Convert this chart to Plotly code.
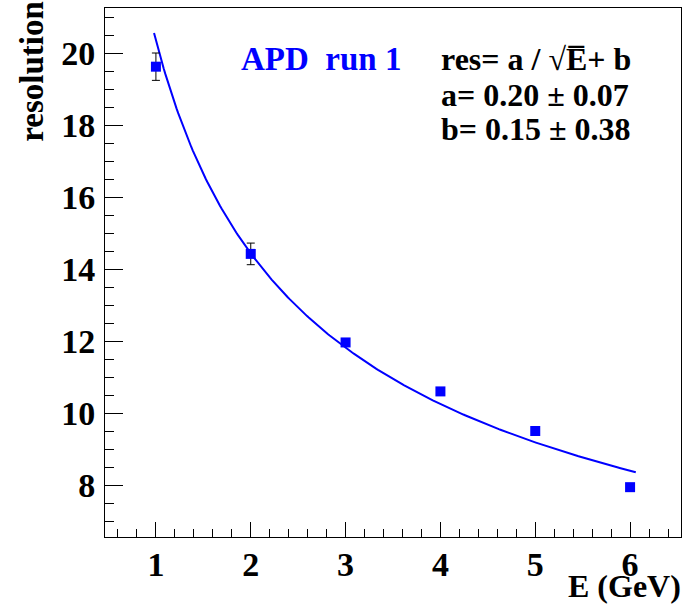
import numpy as np
import plotly.graph_objects as go

# Data
energy = [1, 2, 3, 4, 5, 6]
resolution = [19.62, 14.42, 11.96, 10.60, 9.50, 7.94]
res_err = [0.38, 0.30, 0.08, 0.07, 0.06, 0.06]

# Fit parameters (res = A/sqrt(E) + B, in %) and fit range
fit_A = 20.2
fit_B = 0.15
fit_range = [0.98, 6.06]

x_range = [0.463, 6.537]
y_range = [6.556, 21.25]
x_ticks = [1, 2, 3, 4, 5, 6]
y_ticks = [8, 10, 12, 14, 16, 18, 20]

FONT = "Liberation Serif"
BLUE = "#0000ff"

xf = np.linspace(fit_range[0], fit_range[1], 300)
yf = fit_A / np.sqrt(xf) + fit_B

fig = go.Figure()
fig.add_trace(go.Scatter(
    x=xf, y=yf, mode="lines", line=dict(color=BLUE, width=2),
    hoverinfo="skip", showlegend=False))
fig.add_trace(go.Scatter(
    x=energy, y=resolution, mode="markers",
    marker=dict(symbol="square", size=10, color=BLUE),
    error_y=dict(type="data", array=res_err, color="black", thickness=1, width=4),
    showlegend=False))

fig.update_layout(
    width=683, height=605,
    margin=dict(l=105, r=2, t=8, b=68),
    paper_bgcolor="white", plot_bgcolor="white",
    font=dict(family=FONT, size=34, color="black"),
)
fig.update_xaxes(
    range=x_range, tickvals=x_ticks, ticktext=[f"<b>{v}</b>" for v in x_ticks],
    showgrid=False, zeroline=False,
    showline=True, linecolor="black", linewidth=1, mirror=True,
    ticks="inside", ticklen=15, tickcolor="black", tickwidth=1,
    ticklabelstandoff=-3,
    minor=dict(dtick=0.2, tick0=0, ticks="inside", ticklen=8, tickcolor="black", showgrid=False),
    tickfont=dict(family=FONT, size=34, color="black"),
)
fig.update_yaxes(
    range=y_range, tickvals=y_ticks, ticktext=[f"<b>{v}</b>" for v in y_ticks],
    showgrid=False, zeroline=False,
    showline=True, linecolor="black", linewidth=1, mirror=True,
    ticks="inside", ticklen=18, tickcolor="black", tickwidth=1,
    ticklabelstandoff=2,
    minor=dict(dtick=0.5, tick0=0, ticks="inside", ticklen=9, tickcolor="black", showgrid=False),
    tickfont=dict(family=FONT, size=34, color="black"),
)

# Axis titles
fig.add_annotation(text="<b>resolution</b>", xref="paper", yref="paper",
                   x=-0.128, y=1.017, xanchor="center", yanchor="top", textangle=-90,
                   showarrow=False, font=dict(family=FONT, size=33, color="black"))
fig.add_annotation(text="<b>E (GeV)</b>", xref="paper", yref="paper",
                   x=1.004, y=-0.054, xanchor="right", yanchor="top",
                   showarrow=False, font=dict(family=FONT, size=32, color="black"))

# Text boxes
fig.add_annotation(text="<b>APD  run 1</b>", xref="paper", yref="paper",
                   x=0.233, y=0.903, xanchor="left", yanchor="middle",
                   showarrow=False, font=dict(family=FONT, size=33, color=BLUE))
fig.add_annotation(text="<b>res= a / \u221aE\u0305+ b</b>", xref="paper", yref="paper",
                   x=0.58, y=0.903, xanchor="left", yanchor="middle",
                   showarrow=False, font=dict(family=FONT, size=32, color="black"))
fig.add_annotation(text="<b>a= 0.20 \u00b1 0.07</b>", xref="paper", yref="paper",
                   x=0.58, y=0.835, xanchor="left", yanchor="middle",
                   showarrow=False, font=dict(family=FONT, size=32, color="black"))
fig.add_annotation(text="<b>b= 0.15 \u00b1 0.38</b>", xref="paper", yref="paper",
                   x=0.58, y=0.772, xanchor="left", yanchor="middle",
                   showarrow=False, font=dict(family=FONT, size=32, color="black"))

fig.write_html("out.html")
